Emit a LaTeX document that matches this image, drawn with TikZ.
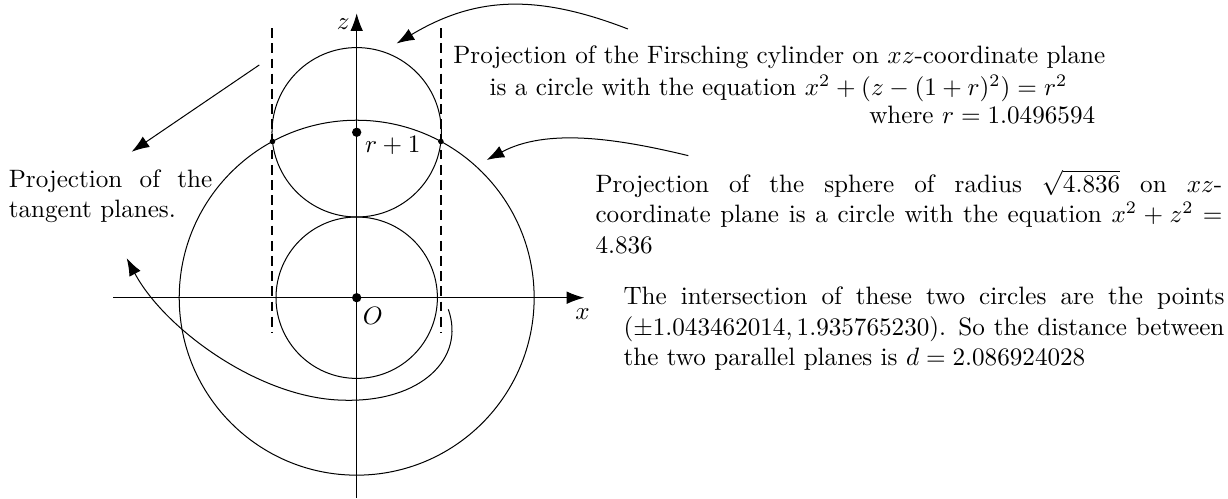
\documentclass[tikz,border=0pt]{standalone}
\usetikzlibrary{arrows.meta}
\begin{document}
\begin{tikzpicture}[x=1.128cm,y=1.128cm,
  axis/.style={line width=0.4pt,-{Latex[length=7pt,width=5pt]}},
  pointer/.style={line width=0.4pt,-{Latex[length=7pt,width=5pt]}},
  tangentline/.style={line width=0.8pt,dash pattern=on 3.9pt off 2.14pt},
  bigdot/.style={circle,fill,inner sep=0pt,minimum size=3.7pt},
  smalldot/.style={circle,fill,inner sep=0pt,minimum size=2.2pt},
  note/.style={inner sep=0pt,anchor=base west,align=justify},
  lbl/.style={inner sep=0pt},
]
\useasboundingbox (-4.420,-2.494) rectangle (10.797,3.689);
% key points
\coordinate (O) at (0,0);
\coordinate (C) at (0,2.0496594);
\coordinate (xl) at (-3.016,0);
\coordinate (xr) at (2.82,0);
\coordinate (zb) at (0,-2.48);
\coordinate (zt) at (0,3.524);
\coordinate (t1a) at (-1.043462,3.34);
\coordinate (t1b) at (-1.043462,-0.44);
\coordinate (t2a) at (1.043462,3.34);
\coordinate (t2b) at (1.043462,-0.44);
% circles
\draw (O) circle (1);
\draw (C) circle (1.0496594);
\draw (O) circle ({sqrt(4.836)});
% axes
\draw[axis] (xl) -- (xr);
\draw[axis] (zb) -- (zt);
% tangent planes
\draw[tangentline] (t1a) -- (t1b);
\draw[tangentline] (t2a) -- (t2b);
% points
\node[bigdot] (Odot) at (O) {};
\node[bigdot] (Cdot) at (C) {};
\node[smalldot] (P1) at (-1.043462,1.935765) {};
\node[smalldot] (P2) at (1.043462,1.935765) {};
% labels
\node[lbl] (zlab) at (-0.166,3.39) {$z$};
\node[lbl] (xlab) at (2.8,-0.2) {$x$};
\node[lbl] (Olab) at (0.20,-0.22) {$O$};
\node[lbl] (Clab) at (0.446,1.886) {$r+1$};
% texts
\node[note,text width=80.9pt] (tan) at (-4.317,1.366) {Projection of the tangent planes.};
\node[lbl,anchor=base] (cyl1) at (5.237,2.905) {Projection of the Firsching cylinder on $xz$-coordinate plane};
\node[lbl,anchor=base] (cyl2) at (5.227,2.506) {is a circle with the equation $x^2+(z-(1+r)^2)=r^2$};
\node[lbl,anchor=base east] (cyl3) at (9.157,2.161) {where $r=1.0496594$};
\node[note,text width=249.3pt] (sph) at (2.953,1.301) {Projection of the sphere of radius $\sqrt{4.836}$ on $xz$-\linebreak coordinate plane is a circle with the equation $x^2+z^2=4.836$};
\node[note,text width=239pt] (inter) at (3.30,-0.09) {The intersection of these two circles are the points $(\pm1.043462014, 1.935765230)$. So the distance between the two parallel planes is $d=2.086924028$};
% pointers
\coordinate (a1s) at (3.36,3.33);
\coordinate (a1e) at (0.495,3.15);
\draw[pointer] (a1s) .. controls (2.2,3.78) and (1.45,3.72) .. (a1e);
\coordinate (a2s) at (4.11,1.76);
\coordinate (a2e) at (1.61,1.706);
\draw[pointer] (a2s) .. controls (3.2,1.98) and (2.35,2.1) .. (a2e);
\coordinate (a3s) at (-1.207,2.884);
\coordinate (a3e) at (-2.788,1.809);
\draw[pointer] (a3s) -- (a3e);
\coordinate (a4s) at (1.135,-0.144);
\coordinate (a4m) at (-0.17,-1.27);
\coordinate (a4e) at (-2.85,0.49);
\draw[pointer] (a4s) .. controls (1.35,-0.75) and (0.8,-1.3) .. (a4m) .. controls (-1.2,-1.25) and (-2.38,-0.39) .. (a4e);
\end{tikzpicture}
\end{document}
